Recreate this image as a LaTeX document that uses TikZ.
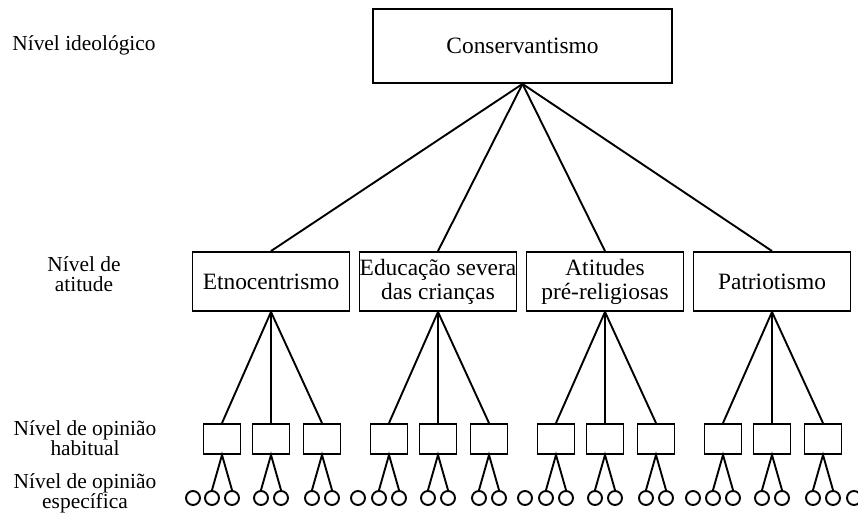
\documentclass[tikz,border=0pt]{standalone}
\usepackage{fontspec}
\setmainfont{Liberation Serif}
\tikzset{
	caixa/.style={draw,rectangle,inner sep=0pt,align=center,font=\fontsize{11.7}{12}\selectfont},
	caixinha/.style={draw,rectangle,minimum width=18.5pt,minimum height=15pt,inner sep=0pt},
	bola/.style={draw,circle,minimum size=7pt,inner sep=0pt},
	nivel/.style={align=center,inner sep=0pt,font=\fontsize{10.7}{10}\selectfont}
}
\begin{document}
\begin{tikzpicture}[x=0.5pt,y=-0.5pt,line width=0.95pt]
				\useasboundingbox (0,0) rectangle (858,518);
				\node[nivel] (nivel1) at (84,45) {Nível ideológico};
				\node[nivel] (nivel2) at (84,274) {Nível de\\atitude};
				\node[nivel] (nivel3) at (85,438) {Nível de opinião\\habitual};
				\node[nivel] (nivel4) at (85,493) {Nível de opinião\\específica};
				\node[caixa,minimum width=149.5pt,minimum height=37pt] (cons) at (522.5,46) {Conservantismo};
				\foreach \g/\gx/\txt in {1/271/Etnocentrismo,2/438/{Educação severa\\das crianças},3/605/{Atitudes\\pré-religiosas},4/772/Patriotismo} {
					\node[caixa,minimum width=78.5pt,minimum height=29.5pt] (at\g) at (\gx,281.5) {\txt};
					\draw (cons.south) to (at\g.north);
					\foreach \k/\dx in {1/-49,2/0,3/51} {
						\node[caixinha] (op\g\k) at (\gx+\dx,439) {};
						\draw (at\g.south) to (op\g\k.north);
						\node[bola] (es\g\k-a) at (\gx+\dx-10,498) {};
						\node[bola] (es\g\k-b) at (\gx+\dx+10,498) {};
						\draw (es\g\k-a.north) to (op\g\k.south) to (es\g\k-b.north);
					}
				}
				\foreach \g/\fx in {1/193,2/358,3/525,4/693} \node[bola] (solta\g) at (\fx,498) {};
				\node[bola] (solta5) at (854,498) {};
			\end{tikzpicture}
\end{document}
